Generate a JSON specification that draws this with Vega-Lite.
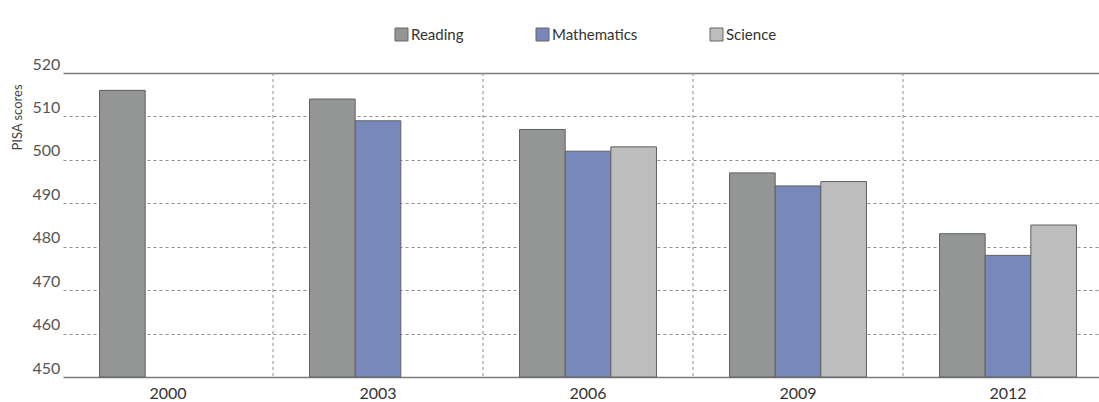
{
  "$schema": "https://vega.github.io/schema/vega-lite/v6.json",
  "width": 1067,
  "height": 304,
  "autosize": {"type": "none"},
  "padding": {"left": 32, "top": 73, "right": 0, "bottom": 25},
  "background": "#ffffff",
  "config": {"view": {"stroke": null}, "font": "Lato"},
  "data": {
    "values": [
      {"year": "2000", "subject": "Reading", "score": 516},
      {"year": "2003", "subject": "Reading", "score": 514},
      {"year": "2003", "subject": "Mathematics", "score": 509},
      {"year": "2006", "subject": "Reading", "score": 507},
      {"year": "2006", "subject": "Mathematics", "score": 502},
      {"year": "2006", "subject": "Science", "score": 503},
      {"year": "2009", "subject": "Reading", "score": 497},
      {"year": "2009", "subject": "Mathematics", "score": 494},
      {"year": "2009", "subject": "Science", "score": 495},
      {"year": "2012", "subject": "Reading", "score": 483},
      {"year": "2012", "subject": "Mathematics", "score": 478},
      {"year": "2012", "subject": "Science", "score": 485}
    ]
  },
  "layer": [
    {
      "data": {"values": [{"year": "2003"}, {"year": "2006"}, {"year": "2009"}, {"year": "2012"}]},
      "mark": {"type": "rule", "strokeDash": [3, 3], "color": "#8c8c8c", "strokeWidth": 1},
      "encoding": {
        "x": {"field": "year", "type": "nominal", "bandPosition": 0}
      }
    },
    {
      "mark": {"type": "bar", "stroke": "#5f6161", "strokeWidth": 1},
      "encoding": {
        "x": {
          "field": "year",
          "type": "nominal",
          "scale": {"range": [31, 1081], "paddingInner": 0, "paddingOuter": 0},
          "axis": {
            "title": null,
            "domain": false,
            "ticks": false,
            "grid": false,
            "bandPosition": 0.5,
            "labelAngle": 0,
            "labelAlign": "center",
            "labelBaseline": "top",
            "labelFontSize": 16,
            "labelColor": "#333333",
            "labelPadding": 8
          }
        },
        "xOffset": {
          "field": "subject",
          "type": "nominal",
          "sort": ["Reading", "Mathematics", "Science"],
          "scale": {"paddingInner": 0, "paddingOuter": 0.8}
        },
        "y": {
          "field": "score",
          "type": "quantitative",
          "scale": {"domain": [450, 520], "zero": false, "nice": false},
          "axis": {
            "title": "PISA scores",
            "values": [450, 460, 470, 480, 490, 500, 510, 520],
            "domain": false,
            "ticks": false,
            "tickSize": 0,
            "labelAlign": "left",
            "labelBaseline": "alphabetic",
            "labelPadding": 0,
            "labelOffset": -4,
            "labelFontSize": 16,
            "labelColor": "#555555",
            "grid": true,
            "gridColor": {"condition": {"test": "datum.value == 450 || datum.value == 520", "value": "#7a7a7a"}, "value": "#8f8f8f"},
            "gridDash": {"condition": {"test": "datum.value == 450 || datum.value == 520", "value": []}, "value": [3, 3]},
            "gridWidth": {"condition": {"test": "datum.value == 450 || datum.value == 520", "value": 1.5}, "value": 1},
            "titleFontSize": 13,
            "titleFontWeight": "normal",
            "titleColor": "#444444",
            "titleAngle": -90,
            "titleAlign": "center",
            "titleBaseline": "middle",
            "titleX": -15,
            "titleY": 44
          }
        },
        "y2": {"datum": 450},
        "color": {
          "field": "subject",
          "type": "nominal",
          "scale": {
            "domain": ["Reading", "Mathematics", "Science"],
            "range": ["#939695", "#7888ba", "#bdbdbd"]
          },
          "legend": {
            "title": null,
            "orient": "none",
            "legendX": 362,
            "legendY": -46,
            "direction": "horizontal",
            "padding": 0,
            "symbolType": "square",
            "symbolSize": 169,
            "symbolStrokeColor": "#666666",
            "symbolStrokeWidth": 1,
            "labelFontSize": 15,
            "labelColor": "#333333",
            "labelOffset": 2,
            "columnPadding": 70
          }
        }
      }
    }
  ]
}
